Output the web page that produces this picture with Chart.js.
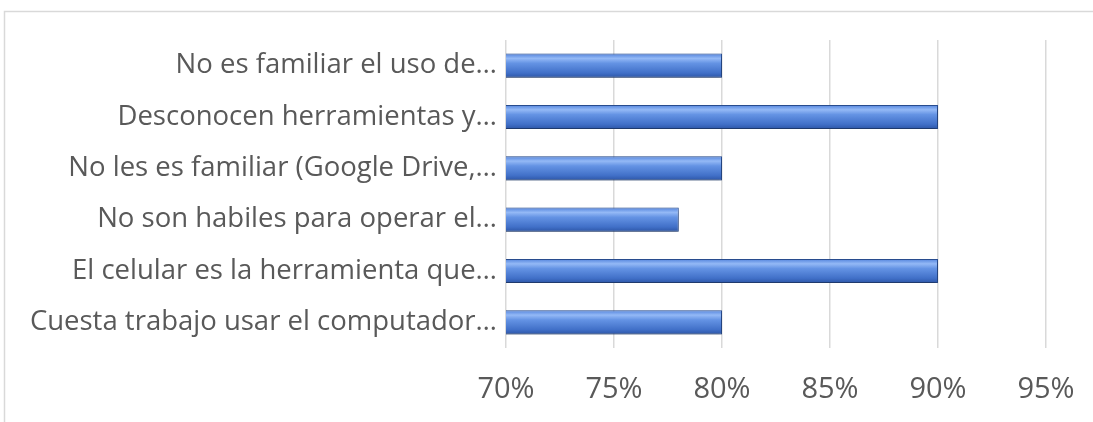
<!DOCTYPE html>
<html>
<head>
<meta charset="utf-8">
<script src="https://cdn.jsdelivr.net/npm/chart.js@4"></script>
<style>
  html, body { margin: 0; padding: 0; background: #fff; }
  #wrap { width: 1093px; height: 422px; position: relative; }
</style>
</head>
<body>
<div id="wrap"><canvas id="myChart"></canvas></div>
<script>
const categories = [
    'No es familiar el uso de…',
    'Desconocen herramientas y…',
    'No les es familiar (Google Drive,…',
    'No son habiles para operar el…',
    'El celular es la herramienta que…',
    'Cuesta trabajo usar el computador…'
];
const percentValues = [80, 90, 80, 78, 90, 80];
const xTicks = [70, 75, 80, 85, 90, 95];

const textColor = '#595959';
const gridColor = '#d9d9d9';

// outer frame, bar shadow and gradient fill
const framePlugin = {
    id: 'frame',
    beforeDraw(chart) {
        const ctx = chart.ctx;
        ctx.save();
        ctx.strokeStyle = '#d9d9d9';
        ctx.lineWidth = 1.5;
        ctx.beginPath();
        ctx.moveTo(4.5, chart.height);
        ctx.lineTo(4.5, 11.5);
        ctx.lineTo(chart.width, 11.5);
        ctx.stroke();
        ctx.restore();
    },
    beforeDatasetsDraw(chart) {
        const ctx = chart.ctx;
        chart.getDatasetMeta(0).data.forEach(bar => {
            const top = bar.y - bar.height / 2;
            const bottom = bar.y + bar.height / 2;
            const g = ctx.createLinearGradient(0, top, 0, bottom);
            g.addColorStop(0, '#5283dc');
            g.addColorStop(0.2, '#94b9f6');
            g.addColorStop(0.4, '#6493e4');
            g.addColorStop(0.8, '#4170c8');
            g.addColorStop(1, '#2c55a6');
            bar.options = Object.assign({}, bar.options, { backgroundColor: g });
        });
        ctx.save();
        ctx.shadowColor = 'rgba(0,0,0,0.35)';
        ctx.shadowBlur = 4;
        ctx.shadowOffsetY = 2;
    },
    afterDatasetsDraw(chart) {
        chart.ctx.restore();
    }
};

new Chart(document.getElementById('myChart'), {
    type: 'bar',
    data: {
        labels: categories,
        datasets: [{
            data: percentValues,
            backgroundColor: '#4472c4',
            borderColor: '#2a4f94',
            borderWidth: 1,
            borderSkipped: 'start',
            categoryPercentage: 1,
            barPercentage: 0.47
        }]
    },
    plugins: [framePlugin],
    options: {
        indexAxis: 'y',
        responsive: true,
        maintainAspectRatio: false,
        animation: false,
        layout: { padding: { top: 40, right: 47, left: 0, bottom: 0 } },
        plugins: {
            legend: { display: false },
            tooltip: { enabled: false }
        },
        scales: {
            x: {
                min: 70,
                max: 95,
                afterBuildTicks(axis) {
                    axis.ticks = xTicks.map(v => ({ value: v }));
                },
                afterFit(axis) {
                    axis.height = 74;
                    axis.paddingLeft = 0;
                    axis.paddingRight = 0;
                },
                grid: { color: gridColor, lineWidth: 1.5, drawTicks: false },
                border: { display: false },
                ticks: {
                    color: textColor,
                    padding: 24,
                    font: { family: 'Open Sans', size: 29 },
                    callback: v => v + '%'
                }
            },
            y: {
                afterFit(axis) { axis.width = 506; },
                grid: { display: false, drawTicks: false },
                border: { display: false },
                ticks: {
                    color: textColor,
                    padding: 9,
                    font: { family: 'Open Sans', size: 27.5 }
                }
            }
        }
    }
});
</script>
</body>
</html>
